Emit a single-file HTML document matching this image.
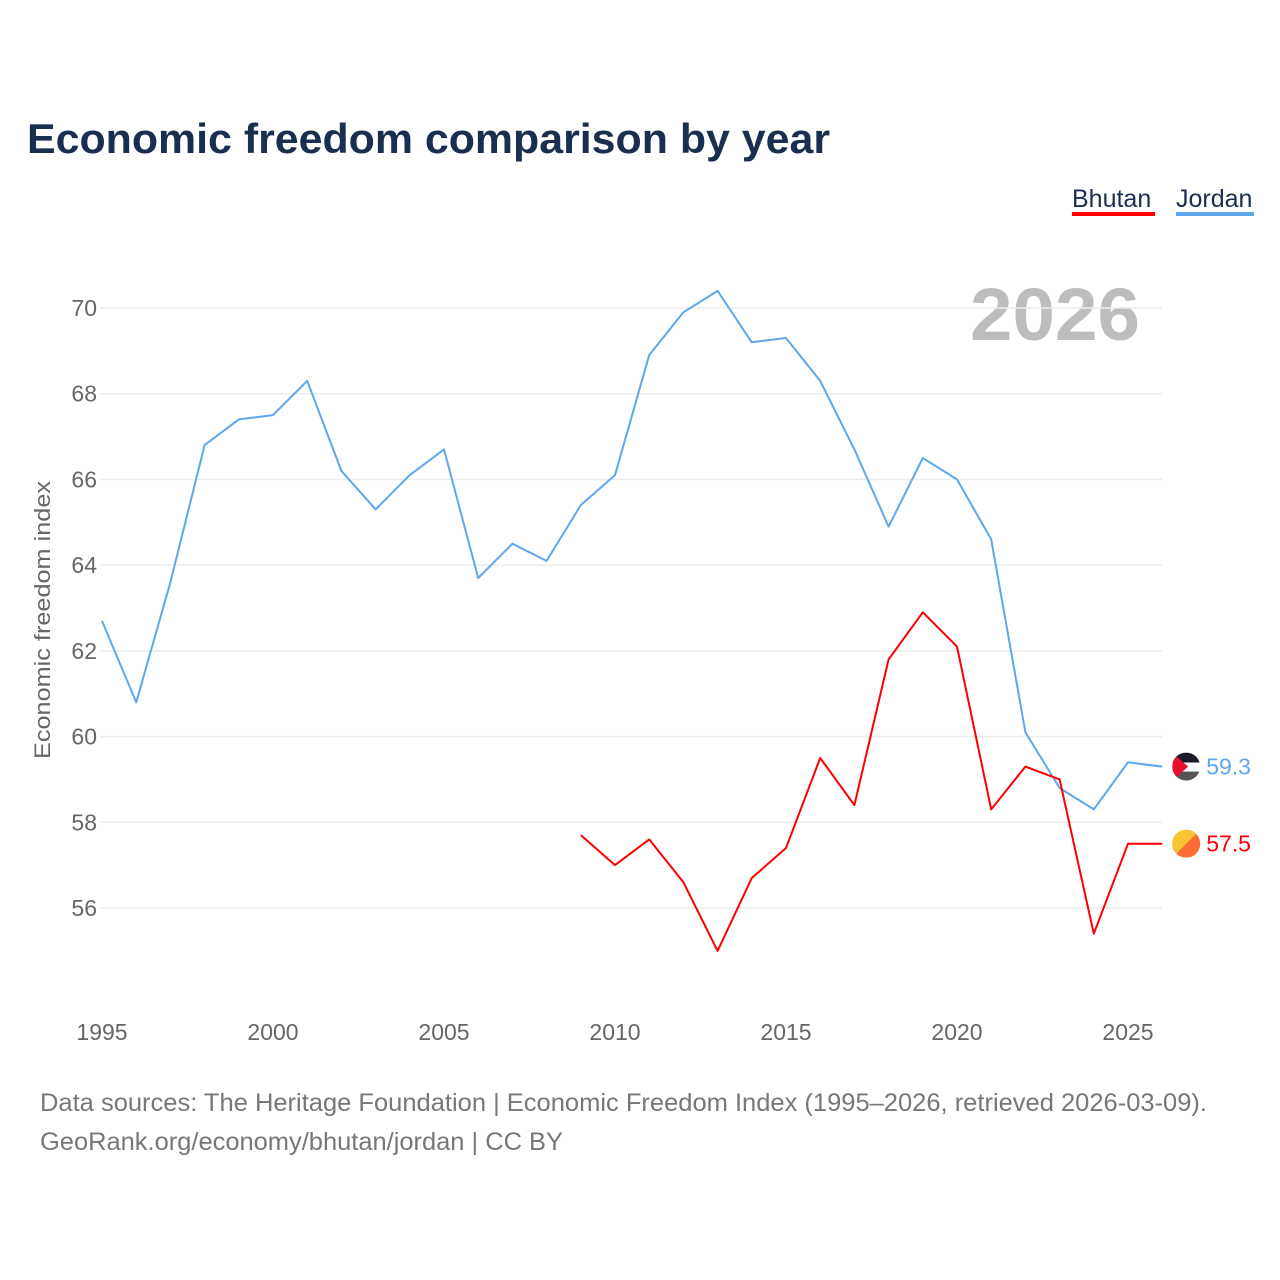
<!DOCTYPE html>
<html><head><meta charset="utf-8">
<style>
body{margin:0;background:#fff;font-family:"Liberation Sans",sans-serif;}
#wrap{position:relative;width:1280px;height:1280px;overflow:hidden;}
</style></head>
<body>
<div id="wrap">
<svg id="chart" width="1280" height="1280" xmlns="http://www.w3.org/2000/svg">
<defs>
<clipPath id="cj"><circle cx="0" cy="0" r="14"/></clipPath>
</defs>
<text x="27" y="153" font-size="42" font-weight="bold" fill="#1a2e4f" textLength="803" lengthAdjust="spacingAndGlyphs">Economic freedom comparison by year</text>
<g>
<text x="1072" y="207" font-size="25" fill="#1a2e4f">Bhutan</text>
<rect x="1072" y="212" width="83" height="4" fill="#ff0000"/>
<text x="1176" y="207" font-size="25" fill="#1a2e4f">Jordan</text>
<rect x="1176" y="212" width="78" height="4" fill="#5ea7ec"/>
</g>
<text x="1140" y="340" font-size="74" font-weight="bold" fill="#bdbdbd" text-anchor="end" textLength="170" lengthAdjust="spacingAndGlyphs">2026</text>
<text transform="translate(50,620) rotate(-90)" font-size="22" fill="#666" text-anchor="middle" textLength="278" lengthAdjust="spacingAndGlyphs">Economic freedom index</text>
<g id="grid"></g>
<g id="yticks"></g>
<g id="xticks"></g>
<g id="series"></g>
<text x="40" y="1111" font-size="25" fill="#777" textLength="1167" lengthAdjust="spacingAndGlyphs">Data sources: The Heritage Foundation | Economic Freedom Index (1995–2026, retrieved 2026-03-09).</text>
<text x="40" y="1150" font-size="25" fill="#777" textLength="523" lengthAdjust="spacingAndGlyphs">GeoRank.org/economy/bhutan/jordan | CC BY</text>
</svg>
</div>
<script>
const jordanYears = [1995,1996,1997,1998,1999,2000,2001,2002,2003,2004,2005,2006,2007,2008,2009,2010,2011,2012,2013,2014,2015,2016,2017,2018,2019,2020,2021,2022,2023,2024,2025,2026];
const jordanValues = [62.7,60.8,63.6,66.8,67.4,67.5,68.3,66.2,65.3,66.1,66.7,63.7,64.5,64.1,65.4,66.1,68.9,69.9,70.4,69.2,69.3,68.3,66.7,64.9,66.5,66.0,64.6,60.1,58.8,58.3,59.4,59.3];
const bhutanYears = [2009,2010,2011,2012,2013,2014,2015,2016,2017,2018,2019,2020,2021,2022,2023,2024,2025,2026];
const bhutanValues = [57.7,57.0,57.6,56.6,55.0,56.7,57.4,59.5,58.4,61.8,62.9,62.1,58.3,59.3,59.0,55.4,57.5,57.5];
const yTicks = [56,58,60,62,64,66,68,70];
const xTicks = [1995,2000,2005,2010,2015,2020,2025];

const NS="http://www.w3.org/2000/svg";
const x = yr => 102 + (yr-1995)*34.2;
const y = v => 308 + (70-v)*42.857;
function mk(tag, attrs, parent){const e=document.createElementNS(NS,tag);for(const k in attrs)e.setAttribute(k,attrs[k]);parent.appendChild(e);return e;}
const grid=document.getElementById('grid'), yt=document.getElementById('yticks'), xt=document.getElementById('xticks'), ser=document.getElementById('series');
yTicks.forEach(v=>{
  const l=mk('line',{x1:100,x2:1162,y1:y(v),y2:y(v),stroke:'#ececec','stroke-width':1.5},grid);
  
  
  const t=mk('text',{x:97,y:y(v)+8,'font-size':23,fill:'#666','text-anchor':'end'},yt);
  t.textContent=v;
  
  
});
xTicks.forEach(v=>{
  const t=mk('text',{x:x(v),y:1040,'font-size':23,fill:'#666','text-anchor':'middle'},xt);
  t.textContent=v;
  
  
});
function line(years, vals, color, name){
  const d=years.map((yr,i)=>(i?'L':'M')+x(yr).toFixed(1)+','+y(vals[i]).toFixed(1)).join('');
  const p=mk('path',{d:d,fill:'none',stroke:color,'stroke-width':2,'stroke-linejoin':'round'},ser);
  
  
  const lx=x(years[years.length-1]), ly=y(vals[vals.length-1]);
  const g=mk('g',{transform:'translate('+(lx+24)+','+ly+')','clip-path':'url(#cj)'},ser);
  
  
  if(name==='jordan'){
    mk('rect',{x:-14,y:-14,width:28,height:10,fill:'#1a1a2a'},g);
    mk('rect',{x:-14,y:-4,width:28,height:9,fill:'#fff'},g);
    mk('rect',{x:-14,y:5,width:28,height:10,fill:'#555'},g);
    mk('path',{d:'M-14,-14 L2,0 L-14,14 Z',fill:'#e8112d'},g);
  } else {
    mk('rect',{x:-14,y:-14,width:28,height:28,fill:'#ff6b35'},g);
    mk('path',{d:'M-14,-14 L14,-14 L-14,14 Z',fill:'#f7c531'},g);
  }
  const t=mk('text',{x:lx+44,y:ly+8,'font-size':23,fill:color},ser);
  t.textContent=vals[vals.length-1].toFixed(1);
  
  
}
line(jordanYears,jordanValues,'#5ea7ec','jordan');
line(bhutanYears,bhutanValues,'#ff0000','bhutan');
</script>
</body></html>
